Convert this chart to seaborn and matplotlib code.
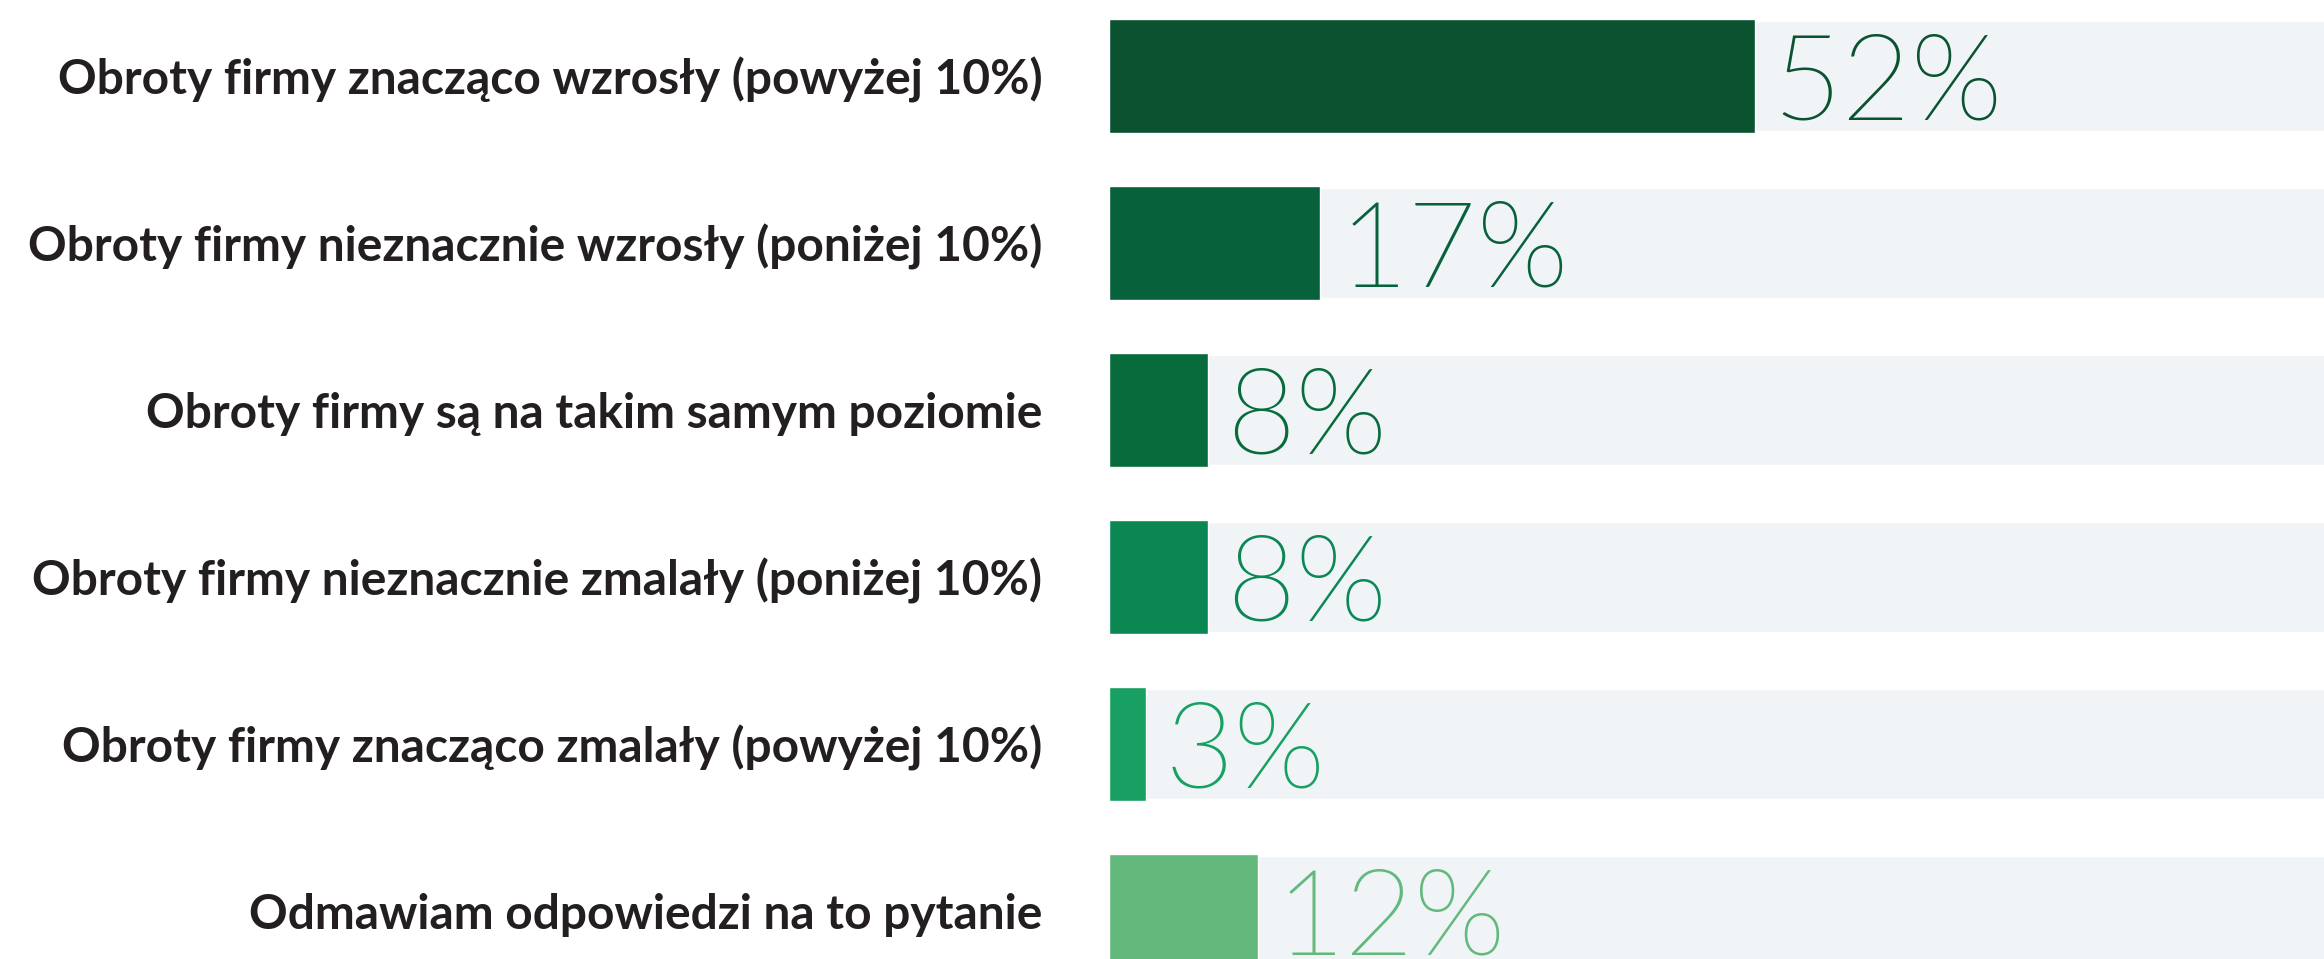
import numpy as np
import pandas as pd
import seaborn as sns
from matplotlib import pyplot as plt
import matplotlib.font_manager as font_manager

sns.set_style("white")
plt.rcParams['font.family'] = ['Lato', 'DejaVu Sans']

# ---------------- data
categories = ["Obroty firmy znacząco wzrosły (powyżej 10%)",
              "Obroty firmy nieznacznie wzrosły (poniżej 10%)",
              "Obroty firmy są na takim samym poziomie",
              "Obroty firmy nieznacznie zmalały (poniżej 10%)",
              "Obroty firmy znacząco zmalały (powyżej 10%)",
              "Odmawiam odpowiedzi na to pytanie"]
values = [52, 17, 8, 8, 3, 12]
bar_colors = ["#0b5330", "#07613a", "#086b3b", "#0b8753", "#17a061", "#63b97c"]

df = pd.DataFrame({"cat": categories, "val": values, "full": [100] * len(values)})

# look for a Lato Light file for the big percentages
light_file = None
for f in font_manager.fontManager.ttflist:
    fn = f.fname.lower()
    if "lato" in fn and "light" in fn and "italic" not in fn:
        light_file = f.fname
        break
if light_file:
    pct_font = font_manager.FontProperties(fname=light_file, size=86)
else:
    pct_font = font_manager.FontProperties(family="Lato", weight="normal", size=86)

# ---------------
fh = plt.figure(figsize=(23.24, 9.59), dpi=100)
ah = fh.add_axes([1109 / 2324, 0, 1 - 1109 / 2324, 1])

# grey track behind each bar
sns.barplot(data=df, x="full", y="cat", color="#f0f4f7", width=0.66, ax=ah, saturation=1)
sns.barplot(data=df, x="val", y="cat", hue="cat", palette=bar_colors, width=0.68,
            legend=False, ax=ah, saturation=1)

for i, (v, c) in enumerate(zip(values, bar_colors)):
    ah.annotate(f"{v}%", xy=(v, i), xytext=(13, 0), textcoords="offset points",
                ha="left", va="center_baseline", fontproperties=pct_font, color=c,
                annotation_clip=False)

ah.set_xlim(0, 100 * (2324 - 1109) / 1242)
ah.set_ylim(5.287, -0.455)
ah.set_xlabel("")
ah.set_ylabel("")
ah.set_xticks([])
sns.despine(ax=ah, left=True, bottom=True)
ah.tick_params(axis="y", length=0, pad=48)
for lab in ah.get_yticklabels():
    lab.set_fontsize(34.5)
    lab.set_fontweight("bold")
    lab.set_color("#231f20")

fh.savefig("out.png", dpi=100)
